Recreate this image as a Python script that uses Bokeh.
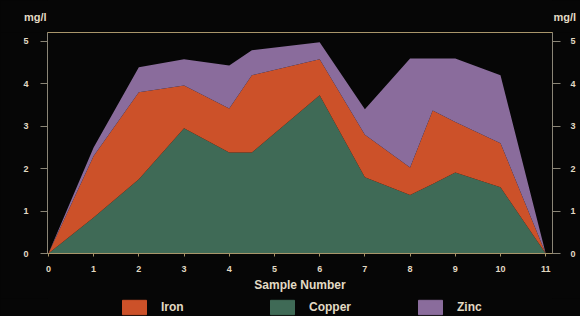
from bokeh.plotting import figure
from bokeh.models import (ColumnDataSource, FixedTicker, LinearAxis, Legend, LegendItem,
                          Range1d)
from bokeh.layouts import column
from bokeh.embed import file_html
from bokeh.resources import INLINE

# ---- data ----
sample = [0, 1, 2, 3, 4, 4.5, 6, 7, 8, 8.5, 9, 10, 11]
copper = [0, 0.85, 1.75, 2.95, 2.38, 2.38, 3.73, 1.80, 1.38, 1.64, 1.91, 1.56, 0]
iron   = [0, 1.45, 2.05, 1.01, 1.04, 1.82, 0.85, 1.00, 0.65, 1.73, 1.19, 1.04, 0]
zinc   = [0, 0.20, 0.59, 0.62, 1.01, 0.59, 0.40, 0.60, 2.57, 1.23, 1.50, 1.60, 0]
x_ticks = list(range(0, 12))
y_ticks = [0, 1, 2, 3, 4, 5]
series_names = ["Iron", "Copper", "Zinc"]
unit_label = "mg/l"

BG = "#060606"
TXT = "#e2dac4"
TAN = "#a8956a"
GRAY = "#8a8576"
C_COPPER = "#3f6a56"
C_IRON = "#cc5129"
C_ZINC = "#8a6c9c"
FONT = "Liberation Sans"
W = 580

def blank_fig(h):
    f = figure(width=W, height=h, x_range=Range1d(0, 1), y_range=Range1d(0, 1),
               output_backend="svg", toolbar_location=None,
               background_fill_color=BG, border_fill_color=BG,
               min_border_left=47, min_border_right=28, min_border_top=0, min_border_bottom=0,
               x_axis_location=None, y_axis_location=None)
    f.grid.visible = False
    f.outline_line_color = None
    return f

# ---- top strip: unit labels carried by tick-less axes ----
ft = blank_fig(32)
for side in ("left", "right"):
    ax = LinearAxis(ticker=FixedTicker(ticks=[]), axis_label=unit_label,
                    axis_label_orientation="horizontal", axis_label_standoff=1,
                    axis_line_color=None, major_tick_line_color=None,
                    minor_tick_line_color=None, major_label_text_font_size="0px",
                    axis_label_text_color=TXT, axis_label_text_font=FONT,
                    axis_label_text_font_style="bold", axis_label_text_font_size="11px")
    ft.add_layout(ax, side)

# ---- main chart ----
src = ColumnDataSource(dict(x=sample, copper=copper, iron=iron, zinc=zinc))

p = figure(width=W, height=266, x_range=Range1d(-0.02, 11.15), y_range=Range1d(0, 5.21),
           output_backend="svg", toolbar_location=None,
           background_fill_color=BG, border_fill_color=BG,
           min_border_left=47, min_border_right=28, min_border_top=0, min_border_bottom=45,
           x_axis_location=None, y_axis_location=None)
p.grid.visible = False
p.outline_line_color = TAN
p.outline_line_width = 1

p.varea_stack(["copper", "iron", "zinc"], x="x", source=src,
              color=[C_COPPER, C_IRON, C_ZINC])

def style_axis(ax, line_color):
    ax.axis_line_color = line_color
    ax.major_tick_line_color = line_color
    ax.minor_tick_line_color = None
    ax.major_label_text_color = TXT
    ax.major_label_text_font = FONT
    ax.major_label_text_font_style = "bold"
    ax.major_label_text_font_size = "9px"

xa = LinearAxis(ticker=FixedTicker(ticks=x_ticks))
style_axis(xa, TAN)
xa.major_tick_in = 0
xa.major_tick_out = 3
xa.major_label_standoff = 9
xa.axis_label = "Sample Number"
xa.axis_label_text_color = TXT
xa.axis_label_text_font = FONT
xa.axis_label_text_font_style = "bold"
xa.axis_label_text_font_size = "12px"
xa.axis_label_standoff = 3
p.add_layout(xa, "below")

ya = LinearAxis(ticker=FixedTicker(ticks=y_ticks))
style_axis(ya, GRAY)
ya.major_tick_in = 0
ya.major_tick_out = 7
ya.major_label_standoff = 12
p.add_layout(ya, "left")

ya2 = LinearAxis(ticker=FixedTicker(ticks=y_ticks))
style_axis(ya2, GRAY)
ya2.major_tick_in = 0
ya2.major_tick_out = 8
ya2.major_label_standoff = 10
p.add_layout(ya2, "right")

# ---- bottom strip: legend (swatch carriers sit outside the strip's range) ----
fb = blank_fig(18)
colors = {"Iron": C_IRON, "Copper": C_COPPER, "Zinc": C_ZINC}
items = []
for name in series_names:
    r = fb.quad(left=[5], right=[6], bottom=[5], top=[6], color=colors[name])
    items.append(LegendItem(label=name, renderers=[r]))
legend = Legend(items=items, orientation="horizontal", location=(72, 0),
                glyph_width=30, glyph_height=18, label_height=18, label_width=106,
                label_standoff=12, spacing=0, padding=0, margin=0,
                background_fill_alpha=0, border_line_color=None,
                label_text_color=TXT, label_text_font=FONT, label_text_font_style="bold",
                label_text_font_size="12px")
fb.add_layout(legend, "center")

layout = column(ft, p, fb, spacing=0)

html = file_html(layout, INLINE)
html = html.replace("<body>", '<body style="background-color:#060606;">')
open("out.html", "w").write(html)
